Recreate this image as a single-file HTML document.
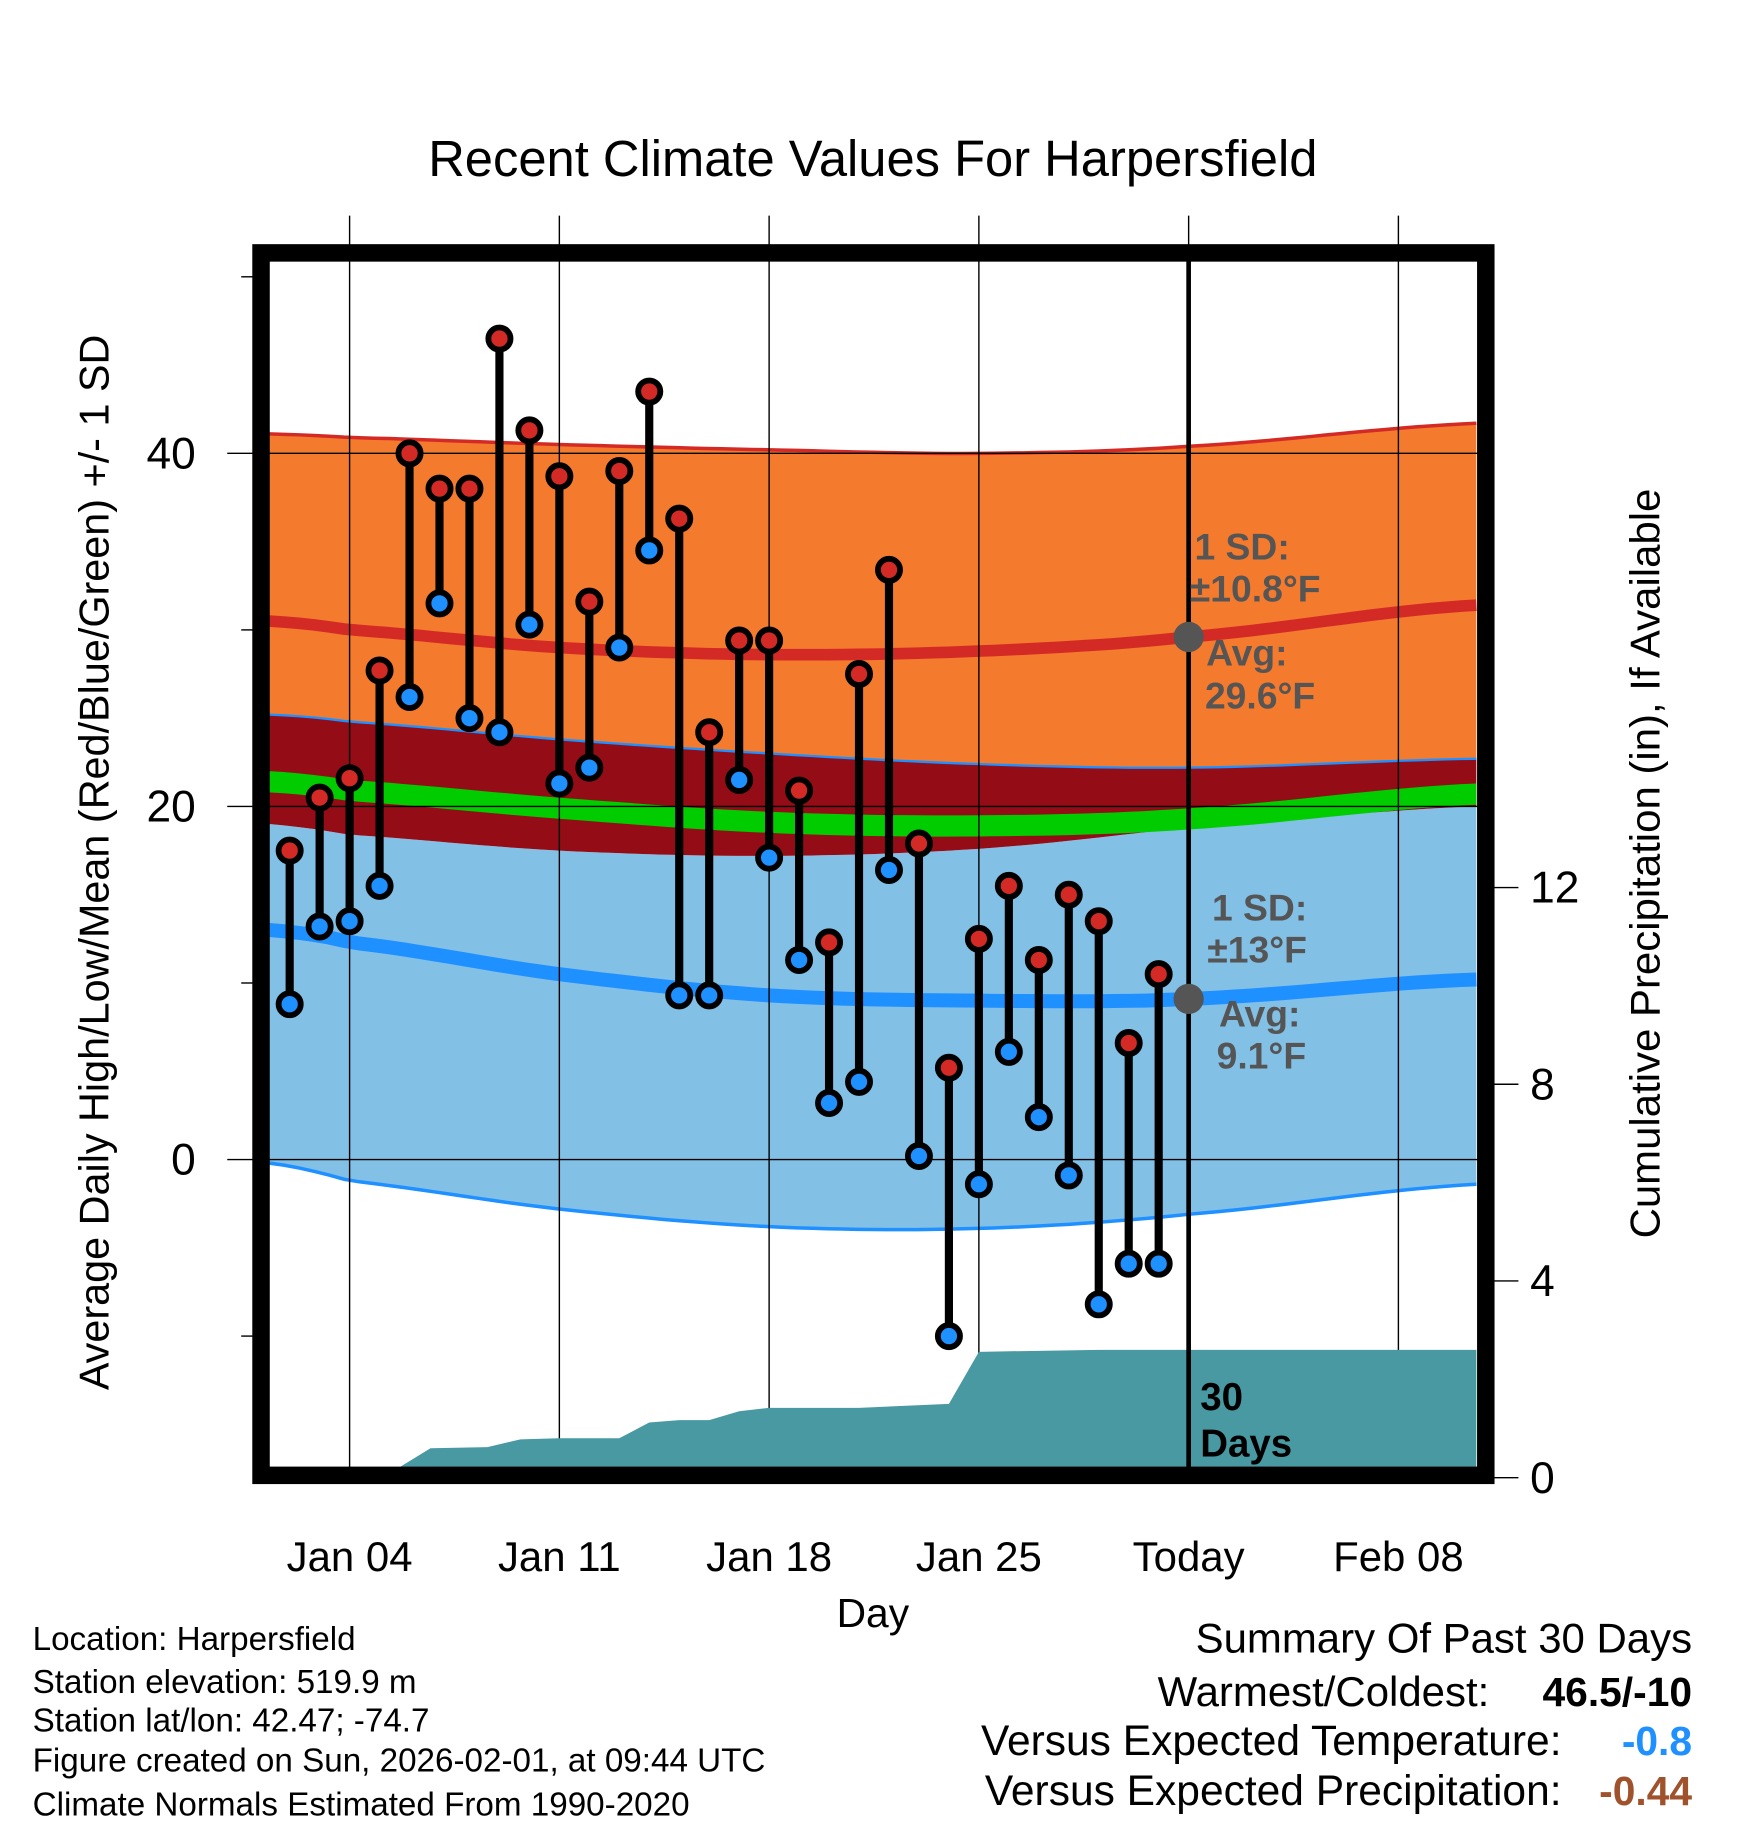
<!DOCTYPE html>
<html><head><meta charset="utf-8"><style>
html,body{margin:0;padding:0;background:#fff;}
svg{display:block;font-family:"Liberation Sans",Arial,sans-serif;}
</style></head><body>
<svg id="chart" width="1748" height="1828" viewBox="0 0 1500 1568.6" xmlns="http://www.w3.org/2000/svg">
<g id="bands"></g>
<g id="grid"></g>
<g id="precip"></g>
<g id="marks"></g>
<g id="frame"></g>
<g id="labels"></g>
</svg>
<script>
// ---- data ----
const obsDays = [2,3,4,5,6,7,8,9,10,11,12,13,14,15,16,17,18,19,20,21,22,23,24,25,26,27,28,29,30,31];
const highs = [17.5,20.5,21.6,27.7,40,38,38,46.5,41.3,38.7,31.6,39,43.5,36.3,24.2,29.4,29.4,20.9,12.3,27.5,33.4,17.9,5.2,12.5,15.5,11.3,15,13.5,6.6,10.5];
const lows = [8.8,13.2,13.5,15.5,26.2,31.5,25,24.2,30.3,21.3,22.2,29,34.5,9.3,9.3,21.5,17.1,11.3,3.2,4.4,16.4,0.2,-10,-1.4,6.1,2.4,-0.9,-8.2,-5.9,-5.9];
const normDays = [1.3,4,11,18,25,32,41.6];
const hiTop = [41.1,40.9,40.5,40.2,40.0,40.4,41.7];
const hiMean = [30.5,30.0,29.0,28.6,28.8,29.6,31.4];
const hiBot = [25.2,24.8,23.8,23.0,22.4,22.2,22.7];
const avgMean = [22.0,21.5,20.5,19.7,19.5,19.9,21.3];
const loTop = [19.0,18.4,17.5,17.2,17.6,18.8,20.0];
const loMean = [13.0,12.3,10.5,9.3,9.0,9.1,10.2];
const loBot = [-0.2,-1.2,-2.8,-3.8,-3.9,-3.1,-1.4];
const precipDays = [1.3,5.1,6.7,8.6,9.7,11,13,14,15,16,17,18,21,24,25,29,32,41.6];
const precipVals = [0,0,0.6,0.62,0.78,0.8,0.8,1.12,1.17,1.17,1.35,1.42,1.42,1.5,2.56,2.6,2.6,2.6];
const xTickDays = [4,11,18,25,32,39];
const xTickLabels = ["Jan 04","Jan 11","Jan 18","Jan 25","Today","Feb 08"];
const yTicks = [0,20,40];
const yMinor = [-10,10,30,50];
const pTicks = [0,4,8,12];

// ---- axes ----
const L=231,R=1268,T=223,B=1259;
const X=d=>300+(d-4)*(180/7);
const Y=v=>995-v*15.15;
const P=p=>1268-p*42.2;
const NS="http://www.w3.org/2000/svg";
function mk(tag,attrs,parent){const e=document.createElementNS(NS,tag);for(const k in attrs)e.setAttribute(k,attrs[k]);parent.appendChild(e);return e;}
function interp(xs,ys,n){const out=[];for(let i=0;i<=n;i++){const d=xs[0]+(xs[xs.length-1]-xs[0])*i/n;let j=0;while(j<xs.length-2&&d>xs[j+1])j++;const t=(d-xs[j])/(xs[j+1]-xs[j]);
 const y0=ys[Math.max(j-1,0)],y1=ys[j],y2=ys[j+1],y3=ys[Math.min(j+2,ys.length-1)];
 const v=0.5*((2*y1)+(-y0+y2)*t+(2*y0-5*y1+4*y2-y3)*t*t+(-y0+3*y1-3*y2+y3)*t*t*t);
 out.push([d,v]);}return out;}
const curve=arr=>interp(normDays,arr,80);
const pts=(c)=>c.map(p=>X(p[0]).toFixed(1)+","+Y(p[1]).toFixed(1));
function band(top,bot,fill,g,name){const a=pts(curve(top)),b=pts(curve(bot)).reverse();const e=mk('polygon',{points:a.concat(b).join(' '),fill:fill},g);return e;}
function line(arr,stroke,w,g,name){const e=mk('polyline',{points:pts(curve(arr)).join(' '),fill:'none',stroke:stroke,'stroke-width':w},g);return e;}

const gB=document.getElementById('bands');
const defs=mk('defs',{},gB);const cp=mk('clipPath',{id:'clip'},defs);mk('rect',{x:L,y:T,width:R-L,height:B-T},cp);
gB.setAttribute('clip-path','url(#clip)');
band(hiTop,hiBot,'#f47a2e',gB,'high-sd-band');
band(loTop,loBot,'#82c0e6',gB,'low-sd-band');
band(hiBot,loTop,'#930c16',gB,'overlap-band');
band(avgMean,avgMean.map(v=>v-1.2),'#00cc00',gB,'mean-band');
line(hiTop,'#d42a26',3,gB,'high-upper-line');
line(hiMean,'#d42a26',10,gB,'high-mean-line');
line(hiBot,'#1e90ff',2,gB,'high-lower-line');
line(loMean,'#1e90ff',12,gB,'low-mean-line');
line(loBot,'#1e90ff',3,gB,'low-lower-line');

// grid
const gG=document.getElementById('grid');
xTickDays.forEach((d,i)=>{const e=mk('line',{x1:X(d),x2:X(d),y1:185,y2:1270,stroke:'#000','stroke-width':1.2},gG);});
yTicks.forEach(v=>{const e=mk('line',{x1:195,x2:R,y1:Y(v),y2:Y(v),stroke:'#000','stroke-width':1.2},gG);});
yMinor.forEach(v=>{const e=mk('line',{x1:207,x2:220,y1:Y(v),y2:Y(v),stroke:'#000','stroke-width':1.2},gG);});
pTicks.forEach(p=>{const e=mk('line',{x1:1280,x2:1303,y1:P(p),y2:P(p),stroke:'#000','stroke-width':1.2},gG);});

// precip
const gP=document.getElementById('precip');gP.setAttribute('clip-path','url(#clip)');
{const a=precipDays.map((d,i)=>X(d).toFixed(1)+","+P(precipVals[i]).toFixed(1));a.push(X(41.6)+","+(B+20),X(1.3)+","+(B+20));
const e=mk('polygon',{points:a.join(' '),fill:'#4899a2'},gP);}
{const e=mk('line',{x1:X(32),x2:X(32),y1:T,y2:B,stroke:'#000','stroke-width':4},gP);}

// marks
const gM=document.getElementById('marks');
obsDays.forEach((d,i)=>{
 const x=X(d);
 const s=mk('line',{x1:x,x2:x,y1:Y(highs[i]),y2:Y(lows[i]),stroke:'#000','stroke-width':7},gM);
 
});
obsDays.forEach((d,i)=>{
 const x=X(d);
 const h=mk('circle',{cx:x,cy:Y(highs[i]),r:9.5,fill:'#d42a26',stroke:'#000','stroke-width':5},gM);
 
 const l=mk('circle',{cx:x,cy:Y(lows[i]),r:9.5,fill:'#1e90ff',stroke:'#000','stroke-width':5},gM);
 
});
{const a=mk('circle',{cx:X(32),cy:Y(29.6),r:13,fill:'#555'},gM);
const b=mk('circle',{cx:X(32),cy:Y(9.1),r:13,fill:'#555'},gM);}

// frame
const gF=document.getElementById('frame');
{const e=mk('rect',{x:224,y:217,width:1051,height:1049,fill:'none',stroke:'#000','stroke-width':15},gF);}

// labels
const gL=document.getElementById('labels');
function txt(s,attrs,name){const e=mk('text',attrs,gL);e.textContent=s;return e;}
xTickLabels.forEach((s,i)=>txt(s,{x:X(xTickDays[i]),y:1348,'font-size':36,'text-anchor':'middle'},'x-tick-label'));
yTicks.forEach(v=>txt(String(v),{x:168,y:Y(v)+13,'font-size':38,'text-anchor':'end'},'y-tick-label'));
pTicks.forEach(p=>txt(String(p),{x:1313,y:P(p)+13,'font-size':38},'precip-tick-label'));
txt('Recent Climate Values For Harpersfield',{x:749,y:151,'font-size':43.5,'text-anchor':'middle'},'chart-title');
txt('Day',{x:749,y:1396,'font-size':35,'text-anchor':'middle'},'x-axis-title');
txt('Average Daily High/Low/Mean (Red/Blue/Green) +/- 1 SD',{x:0,y:0,'font-size':35.5,'text-anchor':'middle',transform:'translate(93,740) rotate(-90)'},'y-axis-title');
txt('Cumulative Precipitation (in), If Available',{x:0,y:0,'font-size':36,'text-anchor':'middle',transform:'translate(1424,741) rotate(-90)'},'precip-axis-title');
const ann={'font-size':32,'font-weight':'bold',fill:'#555'};
txt('1 SD:',Object.assign({x:1025,y:480},ann),'high-sd-label');
txt('\u00b110.8\u00b0F',Object.assign({x:1021,y:516},ann),'high-sd-value');
txt('Avg:',Object.assign({x:1035,y:571},ann),'high-avg-label');
txt('29.6\u00b0F',Object.assign({x:1034,y:608},ann),'high-avg-value');
txt('1 SD:',Object.assign({x:1040,y:790},ann),'low-sd-label');
txt('\u00b113\u00b0F',Object.assign({x:1036,y:826},ann),'low-sd-value');
txt('Avg:',Object.assign({x:1046,y:881},ann),'low-avg-label');
txt('9.1\u00b0F',Object.assign({x:1044,y:917},ann),'low-avg-value');
txt('30',{x:1030,y:1210,'font-size':33,'font-weight':'bold'},'days-count');
txt('Days',{x:1030,y:1250,'font-size':33,'font-weight':'bold'},'days-label');
const foot=['Location: Harpersfield','Station elevation: 519.9 m','Station lat/lon: 42.47; -74.7','Figure created on Sun, 2026-02-01, at 09:44 UTC','Climate Normals Estimated From 1990-2020'];
const fy=[1416,1453,1486,1520,1558];
foot.forEach((s,i)=>txt(s,{x:28,y:fy[i],'font-size':28.5},'footer-line'));
txt('Summary Of Past 30 Days',{x:1452,y:1418,'font-size':36,'text-anchor':'end'},'summary-title');
txt('Warmest/Coldest:',{x:1278,y:1464,'font-size':36,'text-anchor':'end'},'warmest-coldest-label');
txt('46.5/-10',{x:1452,y:1464,'font-size':35,'font-weight':'bold','text-anchor':'end'},'warmest-coldest-value');
txt('Versus Expected Temperature:',{x:1340,y:1506,'font-size':36.5,'text-anchor':'end'},'temp-departure-label');
txt('-0.8',{x:1452,y:1506,'font-size':35,'font-weight':'bold','text-anchor':'end',fill:'#1e90ff'},'temp-departure-value');
txt('Versus Expected Precipitation:',{x:1340,y:1549,'font-size':36.5,'text-anchor':'end'},'precip-departure-label');
txt('-0.44',{x:1452,y:1549,'font-size':35,'font-weight':'bold','text-anchor':'end',fill:'#a0522d'},'precip-departure-value');
</script>
</body></html>
